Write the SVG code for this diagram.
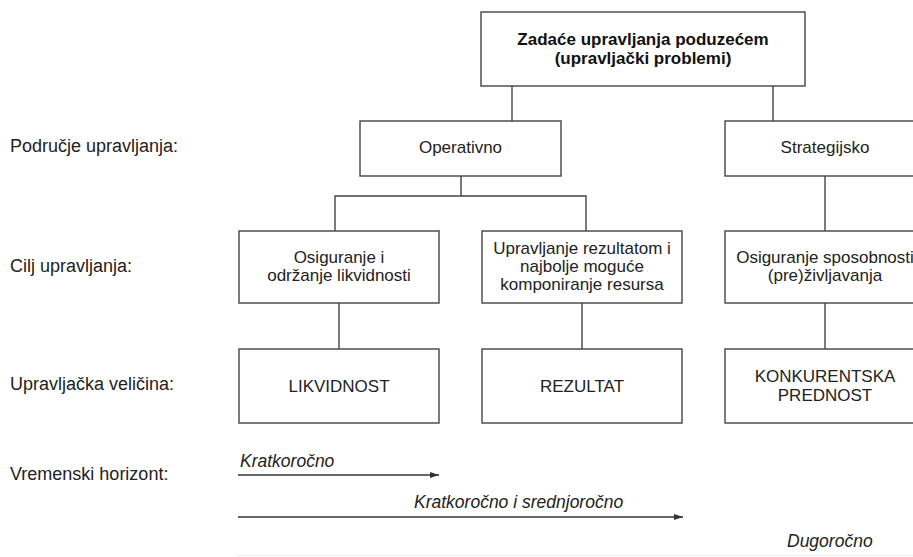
<svg xmlns="http://www.w3.org/2000/svg" width="913" height="557" viewBox="0 0 913 557">
<style>
.box{fill:#fff;stroke:#444;stroke-width:1.4}
.ln{fill:none;stroke:#444;stroke-width:1.4}
.t{font-family:"Liberation Sans",Arial,sans-serif;font-size:17px;fill:#222;text-anchor:middle}
.b{font-weight:bold;fill:#111}
.lab{font-family:"Liberation Sans",Arial,sans-serif;font-size:18px;fill:#222}
.it{font-family:"Liberation Sans",Arial,sans-serif;font-size:17.5px;font-style:italic;fill:#222}
.arr{fill:none;stroke:#333;stroke-width:1.3}
</style>
<defs>
<marker id="ah" markerWidth="10" markerHeight="8" refX="9" refY="4" orient="auto" markerUnits="userSpaceOnUse">
<path d="M0,1 L9,4 L0,7 Z" fill="#333"/>
</marker>
</defs>
<rect width="913" height="557" fill="#fff"/>
<g id="connectors">
<path class="ln" d="M512,86 V121 M773,86 V121"/>
<path class="ln" d="M461,176 V196 M335,231 V196 H586 V231"/>
<path class="ln" d="M825,176 V231"/>
<path class="ln" d="M339,303 V349 M582,303 V349 M825,303 V349"/>
</g>
<g id="top">
<rect class="box" x="481" y="12" width="324" height="74"/>
<text class="t b" x="643" y="45">Zadaće upravljanja poduzećem</text>
<text class="t b" x="643" y="64">(upravljački problemi)</text>
</g>
<g id="operativno">
<rect class="box" x="360" y="121" width="201" height="55"/>
<text class="t" x="460.5" y="153">Operativno</text>
</g>
<g id="strategijsko">
<rect class="box" x="725" y="121" width="200" height="55"/>
<text class="t" x="825" y="153">Strategijsko</text>
</g>
<g id="cilj1">
<rect class="box" x="239" y="231" width="200" height="72"/>
<text class="t" x="339" y="263">Osiguranje i</text>
<text class="t" x="339" y="281">održanje likvidnosti</text>
</g>
<g id="cilj2">
<rect class="box" x="482" y="231" width="200" height="72"/>
<text class="t" x="582" y="254">Upravljanje rezultatom i</text>
<text class="t" x="582" y="272">najbolje moguće</text>
<text class="t" x="582" y="290">komponiranje resursa</text>
</g>
<g id="cilj3">
<rect class="box" x="725" y="231" width="200" height="72"/>
<text class="t" x="825" y="263">Osiguranje sposobnosti</text>
<text class="t" x="825" y="281">(pre)življavanja</text>
</g>
<g id="likvidnost">
<rect class="box" x="239" y="349" width="200" height="74"/>
<text class="t" x="339" y="392">LIKVIDNOST</text>
</g>
<g id="rezultat">
<rect class="box" x="482" y="349" width="200" height="74"/>
<text class="t" x="582" y="392">REZULTAT</text>
</g>
<g id="konkurentska">
<rect class="box" x="725" y="349" width="200" height="74"/>
<text class="t" x="825" y="382">KONKURENTSKA</text>
<text class="t" x="825" y="401">PREDNOST</text>
</g>
<g id="labels">
<text class="lab" x="10" y="152">Područje upravljanja:</text>
<text class="lab" x="10" y="272">Cilj upravljanja:</text>
<text class="lab" x="10" y="390">Upravljačka veličina:</text>
<text class="lab" x="10" y="480">Vremenski horizont:</text>
</g>
<g id="horizont">
<text class="it" x="240" y="467">Kratkoročno</text>
<line class="arr" x1="238" y1="475" x2="439" y2="475" marker-end="url(#ah)"/>
<text class="it" x="414" y="508">Kratkoročno i srednjoročno</text>
<line class="arr" x1="238" y1="517" x2="683" y2="517" marker-end="url(#ah)"/>
<text class="it" x="787" y="547">Dugoročno</text>
<line x1="237" y1="555.5" x2="913" y2="555.5" stroke="#ececec" stroke-width="1"/>
</g>
</svg>
